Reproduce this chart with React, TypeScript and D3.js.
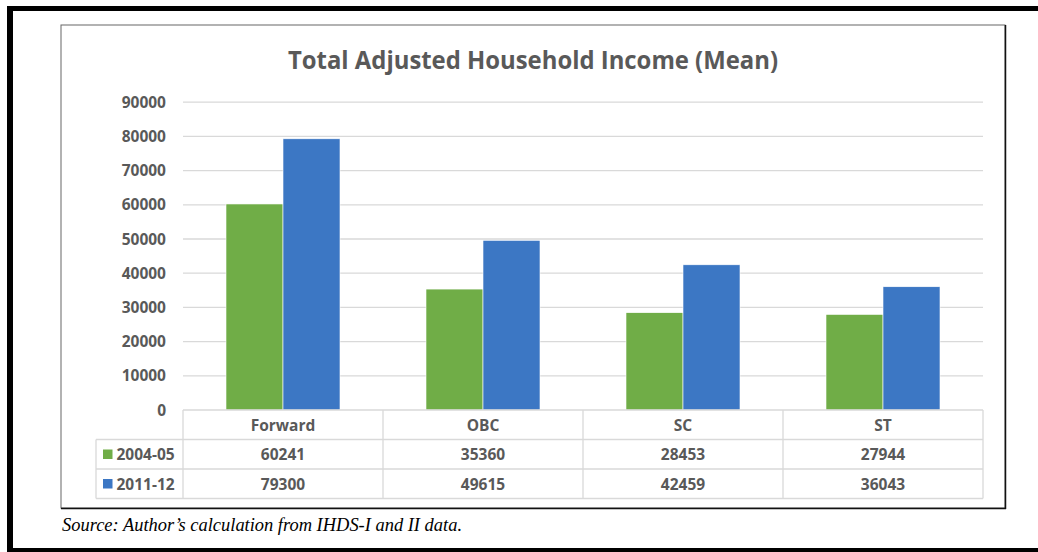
import React from "react";
import * as d3 from "d3";

const categories = ["Forward", "OBC", "SC", "ST"];
const seriesNames = ["2004-05", "2011-12"];
const values2004 = [60241, 35360, 28453, 27944];
const values2011 = [79300, 49615, 42459, 36043];
const yTicks = [0, 10000, 20000, 30000, 40000, 50000, 60000, 70000, 80000, 90000];
const colors = ["#70AD47", "#3C77C4"];
const title = "Total Adjusted Household Income (Mean)";
const source = "Source: Author\u2019s calculation from IHDS-I and II data.";

export default function App() {
  const W = 1038, H = 552;
  const plotL = 183, plotR = 983, plotT = 102.2, plotB = 410;
  const series = [values2004, values2011];
  const x0 = d3.scaleBand<string>().domain(categories).range([plotL, plotR]).paddingInner(0.43).paddingOuter(0.215);
  const x1 = d3.scaleBand<string>().domain(seriesNames).range([0, x0.bandwidth()]);
  const y = d3.scaleLinear().domain([0, 90000]).range([plotB, plotT]);
  const gray = "#595959";
  const font = "'Open Sans', sans-serif";
  const rowY = [410, 439.5, 469, 498.5];
  const legendL = 96;
  const colEdges = categories.map((c) => (x0(c)! + x0.bandwidth() / 2) - x0.step() / 2).concat([plotR]);

  return (
    <svg width={W} height={H} style={{ position: "absolute", left: 0, top: 0, background: "#fff" }}>
      {/* outer black frame */}
      <rect x={7} y={6} width={W - 7} height={5} fill="#000" />
      <rect x={7} y={6} width={6} height={H - 6} fill="#000" />
      <rect x={7} y={548} width={W - 7} height={4} fill="#000" />
      {/* inner chart border */}
      <rect x={61} y={25} width={944} height={483} fill="#fff" stroke="#666" strokeWidth={1} />
      <line x1={1005.5} y1={25} x2={1005.5} y2={509} stroke="#111" strokeWidth={1.5} />
      <line x1={61} y1={508.5} x2={1006} y2={508.5} stroke="#111" strokeWidth={1.5} />

      <text x={533} y={69} textAnchor="middle" fontFamily={font} fontWeight={700} fontSize={25} fill={gray}
        textLength={490} lengthAdjust="spacingAndGlyphs">{title}</text>

      {/* gridlines */}
      {yTicks.filter((t) => t > 0).map((t) => (
        <line key={t} x1={plotL} x2={plotR} y1={y(t)} y2={y(t)} stroke="#d9d9d9" strokeWidth={1.3} />
      ))}
      {yTicks.map((t) => (
        <text key={"l" + t} x={166} y={y(t) + 5.5} textAnchor="end" fontFamily={font} fontWeight={700} fontSize={15.5} fill={gray}>{t}</text>
      ))}

      {/* bars */}
      {categories.map((c, i) => (
        <g key={c}>
          {seriesNames.map((s, j) => (
            <rect key={s} x={x0(c)! + x1(s)!} y={y(series[j][i])} width={x1.bandwidth()} height={plotB - y(series[j][i])}
              fill={colors[j]} stroke="#fff" strokeWidth={0.6} />
          ))}
        </g>
      ))}

      {/* data table */}
      <line x1={plotL} x2={plotR} y1={rowY[0]} y2={rowY[0]} stroke="#d9d9d9" strokeWidth={1.3} />
      {rowY.slice(1).map((ry, k) => (
        <line key={k} x1={legendL} x2={plotR} y1={ry} y2={ry} stroke="#d9d9d9" strokeWidth={1.3} />
      ))}
      <line x1={legendL} x2={legendL} y1={rowY[1]} y2={rowY[3]} stroke="#d9d9d9" strokeWidth={1.3} />
      {colEdges.map((cx, k) => (
        <line key={"c" + k} x1={cx} x2={cx} y1={rowY[0]} y2={rowY[3]} stroke="#d9d9d9" strokeWidth={1.3} />
      ))}
      {categories.map((c) => (
        <text key={"h" + c} x={x0(c)! + x0.bandwidth() / 2} y={430.5} textAnchor="middle" fontFamily={font} fontWeight={700} fontSize={15.5} fill={gray}>{c}</text>
      ))}
      {seriesNames.map((s, j) => (
        <g key={"r" + s}>
          <rect x={103} y={rowY[j + 1] + 10} width={9.5} height={9.5} fill={colors[j]} />
          <text x={116.5} y={rowY[j + 1] + 20.5} fontFamily={font} fontWeight={700} fontSize={15.5} fill={gray}>{s}</text>
          {categories.map((c, i) => (
            <text key={c} x={x0(c)! + x0.bandwidth() / 2} y={rowY[j + 1] + 20.5} textAnchor="middle" fontFamily={font} fontWeight={700} fontSize={15.5} fill={gray}>{series[j][i]}</text>
          ))}
        </g>
      ))}

      <text x={62} y={531} fontFamily="'Liberation Serif', serif" fontStyle="italic" fontSize={18} fill="#000"
        textLength={400} lengthAdjust="spacingAndGlyphs">{source}</text>
    </svg>
  );
}
